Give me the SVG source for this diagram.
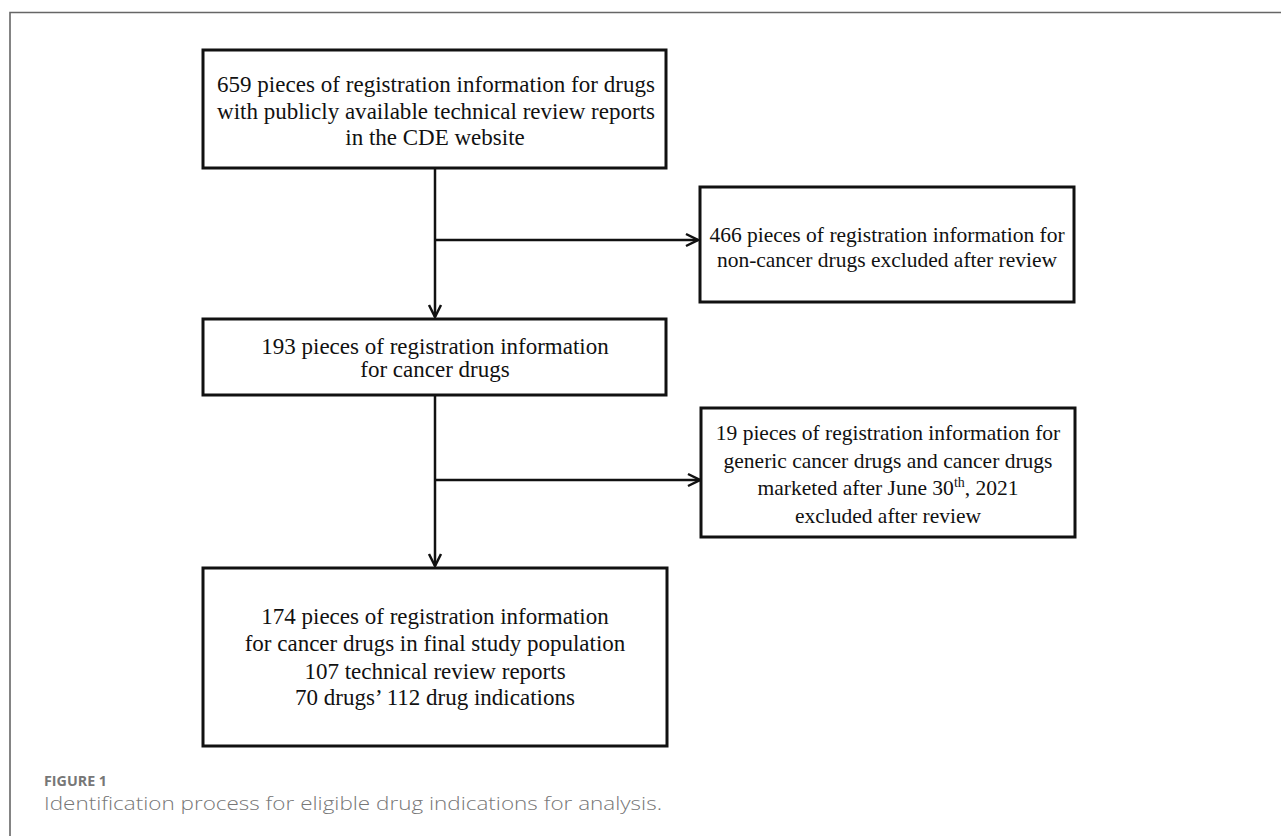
<svg xmlns="http://www.w3.org/2000/svg" width="1282" height="836" viewBox="0 0 1282 836">
<style>
.box{fill:#fff;stroke:#111;stroke-width:3}
.t{font-family:"Liberation Serif","Times New Roman",serif;fill:#111;text-anchor:middle}
.l{font-size:23px}
.r{font-size:21.5px}
.conn{stroke:#111;stroke-width:2.5;fill:none}
.frame{stroke:#666;stroke-width:1.6;fill:none}
.cap{font-family:"Open Sans","Liberation Sans",sans-serif;fill:#777}
</style>
<defs>
<marker id="arr" markerUnits="userSpaceOnUse" markerWidth="16" markerHeight="16" viewBox="-14 -8 16 16" refX="0" refY="0" orient="auto">
<path d="M-12,-6 L0,0 L-12,6" fill="none" stroke="#111" stroke-width="2.5"/>
</marker>
</defs>
<rect width="1282" height="836" fill="#fff"/>
<path class="frame" d="M10,836 L10,12.5 L1281,12.5"/>
<g id="connectors">
<line class="conn" x1="435" y1="168" x2="435" y2="317" marker-end="url(#arr)"/>
<line class="conn" x1="435" y1="240" x2="698" y2="240" marker-end="url(#arr)"/>
<line class="conn" x1="435" y1="395" x2="435" y2="566" marker-end="url(#arr)"/>
<line class="conn" x1="435" y1="480" x2="700" y2="480" marker-end="url(#arr)"/>
</g>
<g id="n1">
<rect class="box" x="203" y="50" width="463" height="118"/>
<text class="t l" x="217" y="92" style="text-anchor:start" textLength="438" lengthAdjust="spacing">659 pieces of registration information for drugs</text>
<text class="t l" x="217" y="119" style="text-anchor:start" textLength="438" lengthAdjust="spacing">with publicly available technical review reports</text>
<text class="t l" x="435" y="145">in the CDE website</text>
</g>
<g id="n2">
<rect class="box" x="700" y="187" width="374" height="115"/>
<text class="t r" x="887" y="242">466 pieces of registration information for</text>
<text class="t r" x="887" y="267">non-cancer drugs excluded  after review</text>
</g>
<g id="n3">
<rect class="box" x="203" y="319" width="463" height="76"/>
<text class="t l" x="435" y="354">193 pieces of registration information</text>
<text class="t l" x="435" y="377">for cancer drugs</text>
</g>
<g id="n4">
<rect class="box" x="701" y="408" width="374" height="129"/>
<text class="t r" x="888" y="440">19 pieces of registration information for</text>
<text class="t r" x="888" y="468">generic cancer drugs and cancer drugs</text>
<text class="t r" x="888" y="495">marketed after June 30<tspan font-size="14" dy="-8">th</tspan><tspan dy="8">, 2021</tspan></text>
<text class="t r" x="888" y="523">excluded after review</text>
</g>
<g id="n5">
<rect class="box" x="203" y="568" width="464" height="178"/>
<text class="t l" x="435" y="624">174 pieces of registration information</text>
<text class="t l" x="435" y="651">for cancer drugs in final study population</text>
<text class="t l" x="435" y="679">107 technical review reports</text>
<text class="t l" x="435" y="705">70 drugs’ 112 drug indications</text>
</g>
<g id="caption">
<text class="cap" x="44" y="786" font-size="14.5" font-weight="700" textLength="63" lengthAdjust="spacingAndGlyphs">FIGURE 1</text>
<text class="cap" x="44" y="810" font-size="18" font-weight="300" textLength="618" lengthAdjust="spacingAndGlyphs">Identification process for eligible drug indications for analysis.</text>
</g>
</svg>
